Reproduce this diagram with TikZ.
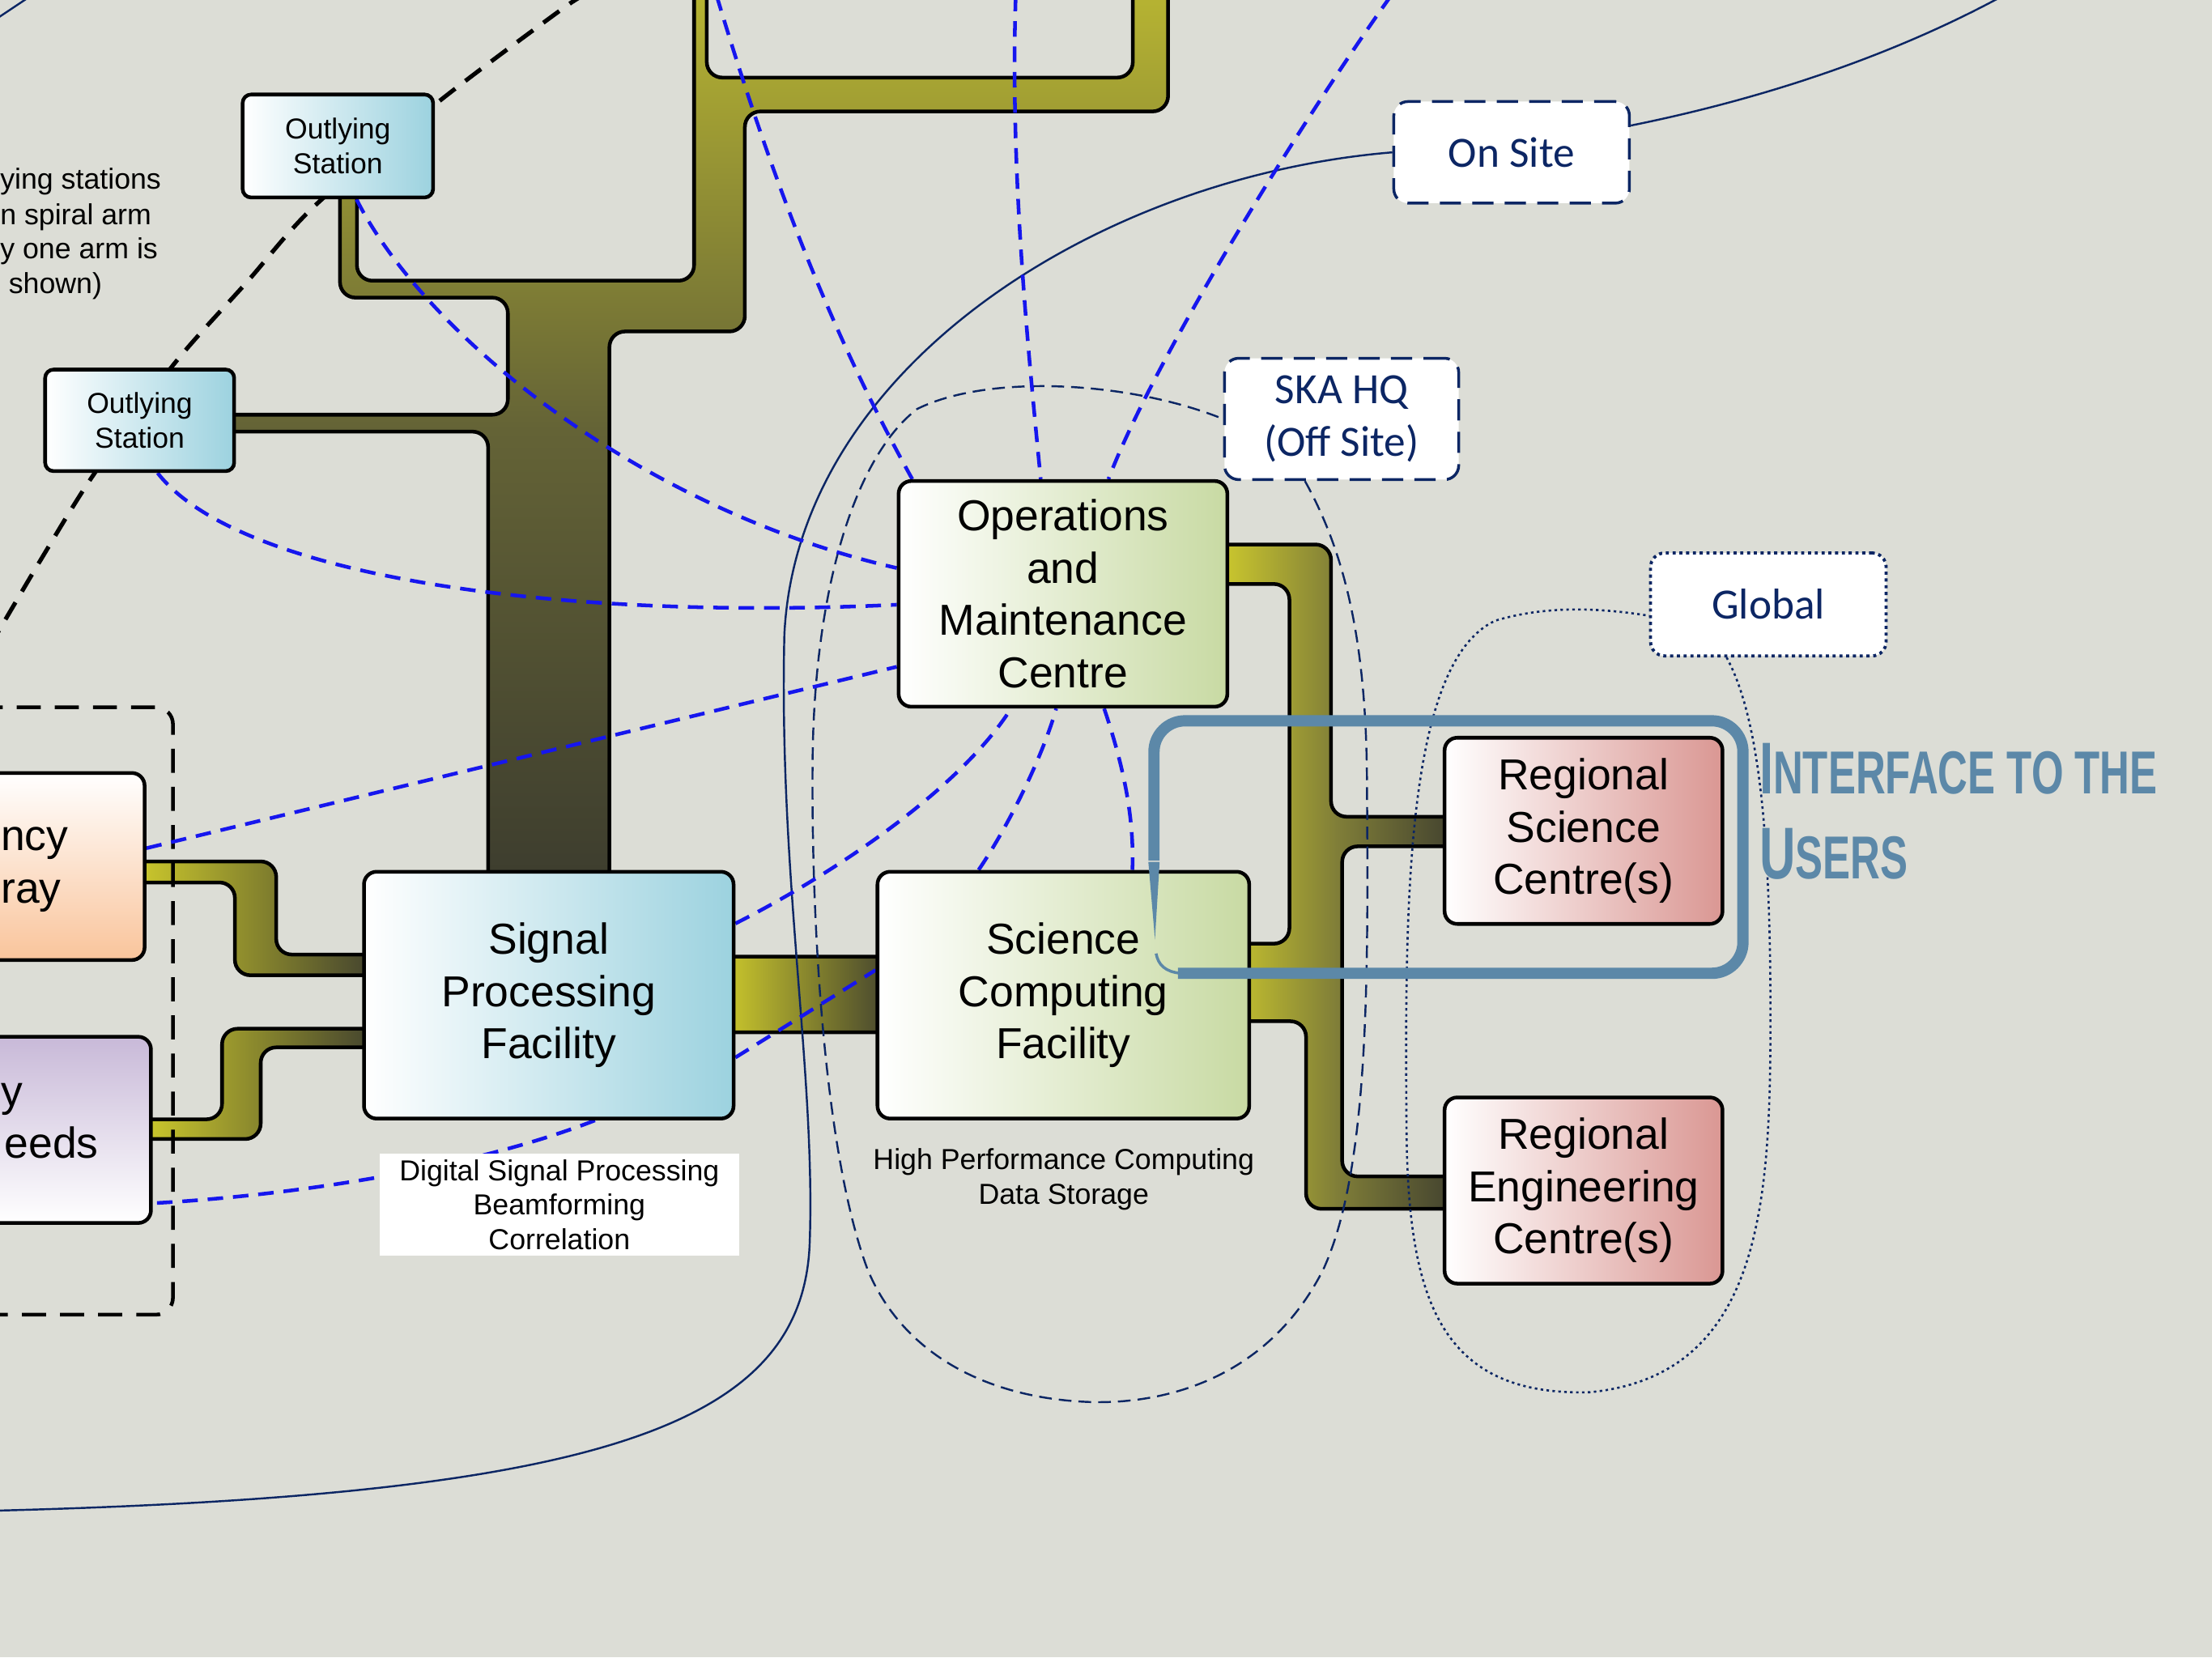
\documentclass[tikz,border=0pt]{standalone}
\usepackage{fontspec}
\setmainfont{Liberation Sans}
\newfontfamily\calfont{Carlito}
\newfontfamily\condfont[FakeStretch=0.68]{Liberation Sans}
\usetikzlibrary{calc}
\definecolor{paper}{RGB}{220,221,214}
\definecolor{linkblue}{RGB}{22,22,238}
\definecolor{navy}{RGB}{12,38,100}
\definecolor{steel}{RGB}{92,136,168}
\definecolor{boxblue}{RGB}{156,210,223}
\definecolor{boxgreen}{RGB}{200,218,163}
\definecolor{boxred}{RGB}{218,151,147}
\definecolor{boxpeach}{RGB}{249,196,155}
\definecolor{boxlilac}{RGB}{200,185,216}
\definecolor{pipeyellow}{RGB}{214,210,44}
\definecolor{pipeolive}{RGB}{128,126,56}
\definecolor{trunkmid}{RGB}{100,99,54}
\definecolor{pipedark}{RGB}{60,60,46}
\definecolor{pipetop}{RGB}{188,185,50}
\pgfdeclarelayer{paperlayer}
\pgfdeclarelayer{pipelayer}
\pgfdeclarelayer{linklayer}
\pgfdeclarelayer{frontlayer}
\pgfsetlayers{paperlayer,pipelayer,linklayer,main,frontlayer}
\tikzset{
 facility/.style={draw=black, line width=2.6pt, rounded corners=9pt, align=center, inner sep=0pt, font=\fontsize{30.7}{37}\selectfont},
 bluefac/.style={facility, left color=white, right color=boxblue},
 greenfac/.style={facility, left color=white, right color=boxgreen},
 redfac/.style={facility, left color=white, right color=boxred},
 stationbox/.style={bluefac, rounded corners=6pt, font=\fontsize{20.4}{24.5}\selectfont},
 smalltext/.style={align=center, inner sep=0pt, font=\fontsize{20.5}{24.5}\selectfont},
 cuttext/.style={inner sep=0pt, font=\fontsize{30.7}{37}\selectfont},
 armtext/.style={anchor=base west, inner sep=0pt, font=\fontsize{20.5}{24.5}\selectfont},
 tagbox/.style={draw=navy, fill=white, line width=2pt, rounded corners=10pt, dash pattern=on 15pt off 8pt, align=center, inner sep=0pt, text=navy, font=\calfont\fontsize{30.6}{37}\selectfont},
 tagdots/.style={tagbox, line width=2.2pt, dash pattern=on 2.2pt off 2.6pt},
 pipe/.style={draw=black, line width=2.6pt, rounded corners=11pt},
 hpipe/.style={pipe, left color=pipeyellow, right color=pipedark},
 bluelink/.style={draw=linkblue, line width=2.6pt, dash pattern=on 11pt off 7pt},
 spiralarm/.style={draw=black, line width=3pt, dash pattern=on 14pt off 9pt},
 groupframe/.style={draw=black, line width=2.6pt, dash pattern=on 17pt off 10pt, rounded corners=12pt},
 navyline/.style={draw=navy, line width=1.4pt},
 navydash/.style={draw=navy, line width=1.4pt, dash pattern=on 9pt off 5pt},
 navydots/.style={draw=navy, line width=1.5pt, dash pattern=on 1.8pt off 2.4pt},
 userframe/.style={draw=steel, line width=8pt, rounded corners=22pt},
 titlepart/.style={anchor=base west, inner sep=0pt, text=steel, font=\condfont\bfseries},
}
\begin{document}
\begin{tikzpicture}[x=1pt,y=-1pt]
\begin{pgfonlayer}{paperlayer}
\fill[paper] (0,0) rectangle (1568,1175);
\end{pgfonlayer}
\useasboundingbox (0,0) rectangle (1568,1175);

% ---------- nodes ----------
\node[stationbox, minimum width=135pt, minimum height=73pt] (os1) at (239.5,103.5) {Outlying\\Station};
\node[stationbox, minimum width=134pt, minimum height=72pt] (os2) at (99,298) {Outlying\\Station};
\node[facility, top color=white, bottom color=boxpeach, minimum width=142.5pt, minimum height=132.6pt] (lfa) at (31.25,614.3) {};
\node[facility, top color=boxlilac, bottom color=white, minimum width=147pt, minimum height=132pt] (sparse) at (33.5,801) {};
\node[cuttext, anchor=base west] (lfaA) at (0.5,603) {ncy};
\node[cuttext, anchor=base west] (lfaB) at (0.5,640) {ray};
\node[cuttext, anchor=base west] (spA) at (0.5,784) {y};
\node[cuttext, anchor=base east] (spB) at (70,821) {eeds};
\node[bluefac, minimum width=262pt, minimum height=175pt] (spf) at (389,705.5) {Signal\\Processing\\Facility};
\node[greenfac, minimum width=233pt, minimum height=160pt] (omc) at (753.5,421) {Operations\\and\\Maintenance\\Centre};
\node[greenfac, minimum width=263.5pt, minimum height=175pt] (scf) at (753.75,705.5) {Science\\Computing\\Facility};
\node[redfac, minimum width=197pt, minimum height=132pt] (rsc) at (1122.5,589) {Regional\\Science\\Centre(s)};
\node[redfac, minimum width=197pt, minimum height=132pt] (rec) at (1122.5,844) {Regional\\Engineering\\Centre(s)};
\node[tagbox, minimum width=167pt, minimum height=72pt] (onsite) at (1071.5,108) {On Site};
\node[tagbox, minimum width=166pt, minimum height=86pt] (skahq) at (951,297) {SKA HQ\\(Off Site)};
\node[tagdots, minimum width=167pt, minimum height=73pt] (global) at (1253.5,428.5) {Global};
\node[smalltext, fill=white, minimum width=255pt, minimum height=72pt] (dsp) at (396.5,854) {Digital Signal Processing\\Beamforming\\Correlation};
\node[smalltext] (hpc) at (754,836) {High Performance Computing\\Data Storage};
\node[armtext] (armA) at (0,134) {ying stations};
\node[armtext] (armB) at (0,159) {n spiral arm};
\node[armtext] (armC) at (0,183.5) {y one arm is};
\node[armtext] (armD) at (6,208) {shown)};

% free ends
\coordinate (t1) at (508,-3);
\coordinate (t2) at (720,-3);
\coordinate (t3) at (986,-3);
\coordinate (fb1) at (-5,1071);
\coordinate (fb2) at (1418,-2);
\coordinate (fb3) at (-2,13);
\coordinate (fb4) at (19,-1);

% ---------- pipes ----------
\begin{pgfonlayer}{pipelayer}
\path[pipe, top color=pipetop, bottom color=pipedark, middle color=trunkmid]
 (241,125) -- (241,211) -- (360,211) -- (360,294) -- (150,294) -- (150,306) -- (346,306) -- (346,634)
 -- (432,634) -- (432,235) -- (528,235) -- (528,79) -- (828,79) -- (828,-25) -- (803,-25) -- (803,55)
 -- (501,55) -- (501,-25) -- (492,-25) -- (492,199) -- (253,199) -- (253,125) -- cycle;
\path[pipe, left color=pipeyellow, right color=pipedark, middle color=pipeolive]
 (855,386) -- (943.5,386) -- (943.5,579) -- (1040,579) -- (1040,600) -- (951.4,600) -- (951.4,834)
 -- (1040,834) -- (1040,857) -- (925.8,857) -- (925.8,724) -- (870,724) -- (870,669) -- (914,669)
 -- (914,414) -- (855,414) -- cycle;
\path[hpipe] (504,678.2) rectangle (638,731.8);
\path[hpipe] (85,610.7) -- (195.8,610.7) -- (195.8,676.7) -- (274,676.7) -- (274,691.4) -- (166.5,691.4) -- (166.5,625.6) -- (85,625.6) -- cycle;
\path[hpipe] (90,793.5) -- (157.4,793.5) -- (157.4,729.3) -- (274,729.3) -- (274,742.5) -- (184.8,742.5) -- (184.8,807.5) -- (90,807.5) -- cycle;
\end{pgfonlayer}

% ---------- links ----------
\begin{pgfonlayer}{linklayer}
\draw[groupframe] (-30,501.4) rectangle (122.6,932);
\draw[spiralarm] plot[smooth] coordinates {(416,-4) (399,6) (311,72) (223,146) (175,200) (122.6,259) (66,337) (30,395) (-6,456)};
% enclosures
\draw[navyline] (onsite.west) .. controls (780,125) and (565,260) .. (556,450) .. controls (552,620) and (578,760) .. (574,880) .. controls (570,1010) and (430,1060) .. (fb1);
\draw[navyline] ([yshift=19pt]onsite.east) .. controls (1250,70) and (1340,40) .. (fb2);
\draw[navyline] (fb3) -- (fb4);
\draw[navydash] ([xshift=58pt]skahq.south west) .. controls (958,400) and (969,470) .. (969,560)
  .. controls (970,700) and (970,830) .. (938,900) .. controls (900,975) and (830,995) .. (775,994)
  .. controls (700,992) and (640,960) .. (615,900) .. controls (585,820) and (575,660) .. (576,540)
  .. controls (577,420) and (605,325) .. (650,290) .. controls (700,265) and (800,270) .. (skahq.west);
\draw[navydots] ([xshift=55pt]global.south west) .. controls (1248,510) and (1255,600) .. (1255,720)
  .. controls (1255,850) and (1250,975) .. (1127,987) .. controls (1020,990) and (998,920) .. (997,800)
  .. controls (996,650) and (995,470) .. (1060,440) .. controls (1100,428) and (1140,432) .. ([yshift=-8pt]global.west);
% blue links
\draw[bluelink] (t1) .. controls (543,113) and (584,227) .. ([xshift=11pt]omc.north west);
\draw[bluelink] (t2) .. controls (716,120) and (728,240) .. ([xshift=102pt]omc.north west);
\draw[bluelink] (t3) .. controls (930,75) and (820,250) .. ([xshift=150pt]omc.north west);
\draw[bluelink] ([xshift=82pt]os1.south west) .. controls (300,235) and (450,360) .. ([yshift=-63pt]omc.north west);
\draw[bluelink] ([xshift=81pt]os2.south west) .. controls (170,410) and (400,440) .. ([yshift=-89pt]omc.north west);
\draw[bluelink] ([yshift=13pt]lfa.east) -- ([yshift=-133pt]omc.north west);
\draw[bluelink] ([yshift=-38pt]spf.north east) .. controls (590,620) and (680,560) .. ([xshift=81pt]omc.south west);
\draw[bluelink] ([yshift=-133pt]spf.north east) -- ([yshift=-71pt]scf.north west);
\draw[bluelink] ([xshift=73pt]scf.north west) .. controls (712,590) and (738,540) .. ([xshift=113pt]omc.south west);
\draw[bluelink] ([xshift=165pt]spf.south west) .. controls (330,830) and (200,848) .. ([yshift=-52pt]sparse.east);
\draw[bluelink] ([xshift=147pt]omc.south west) .. controls (797,545) and (804,580) .. ([xshift=182pt]scf.north west);
\end{pgfonlayer}

% ---------- front ----------
\begin{pgfonlayer}{frontlayer}
\draw[userframe] (818,610) -- (818,511) -- (1235.5,511) -- (1235.5,690) -- (835,690);
\fill[steel] (814,611) -- (822,611) -- (818.7,666) -- cycle;
\draw[steel, line width=2pt] (837,690) .. controls (826,689) and (821,684) .. (819.5,676);
\node[titlepart] (title1) at (1247,562.5) {{\fontsize{52}{60}\selectfont I}{\fontsize{43}{60}\selectfont NTERFACE TO THE}};
\node[titlepart] (title2) at (1247,623) {{\fontsize{52}{60}\selectfont U}{\fontsize{43}{60}\selectfont SERS}};
\end{pgfonlayer}
\end{tikzpicture}
\end{document}
